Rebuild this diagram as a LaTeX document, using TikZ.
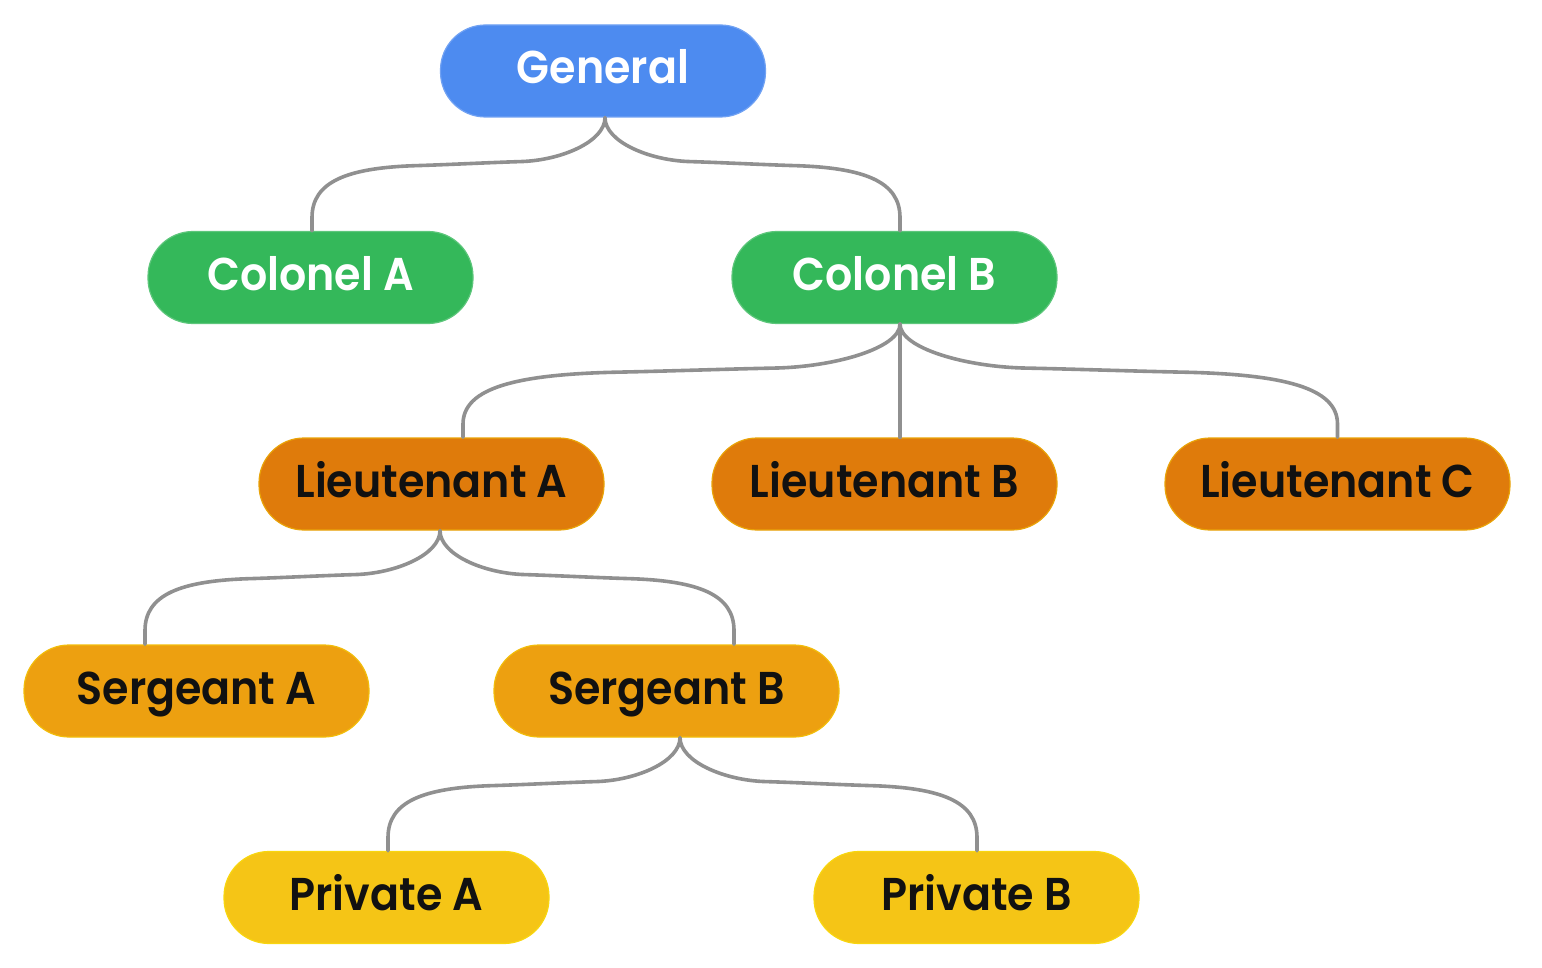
\documentclass[tikz,border=0pt]{standalone}
\usepackage{fontspec}
\setmainfont{Poppins}[BoldFont={Poppins SemiBold}, BoldFeatures={FakeStretch=0.93}]
\usetikzlibrary{calc}
\definecolor{cblue}{HTML}{4D8BF0}
\definecolor{cgreen}{HTML}{34B85A}
\definecolor{clt}{HTML}{DF7B0B}
\definecolor{csg}{HTML}{EDA010}
\definecolor{cpv}{HTML}{F5C516}
\definecolor{cedge}{HTML}{909090}
\definecolor{ctext}{HTML}{111111}
\tikzset{
  box/.style={rectangle, rounded corners=45pt, minimum height=92pt, inner sep=0pt,
    text height=33pt, text depth=7pt, line width=1.2pt,
    font=\fontsize{46}{50}\selectfont\bfseries},
  narrow/.style={box, minimum width=325pt},
  wide/.style={box, minimum width=345pt},
  gen/.style={narrow, fill=cblue, draw=cblue!80!white, text=white},
  col/.style={narrow, fill=cgreen, draw=cgreen!80!white, text=white},
  lt/.style={wide, fill=clt, draw=clt!70!yellow, text=ctext},
  sg/.style={wide, fill=csg, draw=csg!70!yellow, text=ctext},
  pv/.style={narrow, fill=cpv, draw=cpv!70!yellow, text=ctext},
  edge/.style={draw=cedge, line width=3.6pt, line cap=round}
}
\newcommand{\link}[2]{%
  \draw[edge] let \p1=(#1), \p2=(#2), \n1={\x2-\x1} in
    (\p1) .. controls (\x1, \y1-24pt) and (\x1+0.15*\n1, \y1-43pt) .. (\x1+0.29*\n1, \y1-44pt)
    .. controls (\x1+0.4*\n1, \y1-45pt) and (\x2-0.47*\n1, \y1-47pt) .. (\x2-0.36*\n1, \y1-48pt)
    .. controls (\x2-0.12*\n1, \y1-50pt) and (\x2, \y1-64pt) .. (\x2, \y1-100pt)
    -- (\p2);}
\begin{document}
\begin{tikzpicture}[x=1pt, y=-1pt]
\useasboundingbox (0,0) rectangle (1542,968);
\node[gen] (G)  at (603,71)    {General};
\node[col] (CA) at (310.5,277.5) {Colonel A};
\node[col] (CB) at (894.5,277.5) {Colonel B};
\node[lt]  (LA) at (431.5,484) {Lieutenant A};
\node[lt]  (LB) at (884.5,484) {Lieutenant B};
\node[lt]  (LC) at (1337.5,484) {Lieutenant C};
\node[sg]  (SA) at (196.5,691) {Sergeant A};
\node[sg]  (SB) at (666.5,691) {Sergeant B};
\node[pv]  (PA) at (386.5,897.5) {Private A};
\node[pv]  (PB) at (976.5,897.5) {Private B};
\link{[xshift=2pt]G.south}{[xshift=1.5pt]CA.north}
\link{[xshift=2pt]G.south}{[xshift=5.5pt]CB.north}
\link{[xshift=5.5pt]CB.south}{[xshift=31.5pt]LA.north}
\link{[xshift=5.5pt]CB.south}{[xshift=15.5pt]LB.north}
\link{[xshift=5.5pt]CB.south}{LC.north}
\link{[xshift=8.5pt]LA.south}{[xshift=-51.5pt]SA.north}
\link{[xshift=8.5pt]LA.south}{[xshift=67.5pt]SB.north}
\link{[xshift=13.5pt]SB.south}{[xshift=1.5pt]PA.north}
\link{[xshift=13.5pt]SB.south}{[xshift=0.5pt]PB.north}
\end{tikzpicture}
\end{document}
